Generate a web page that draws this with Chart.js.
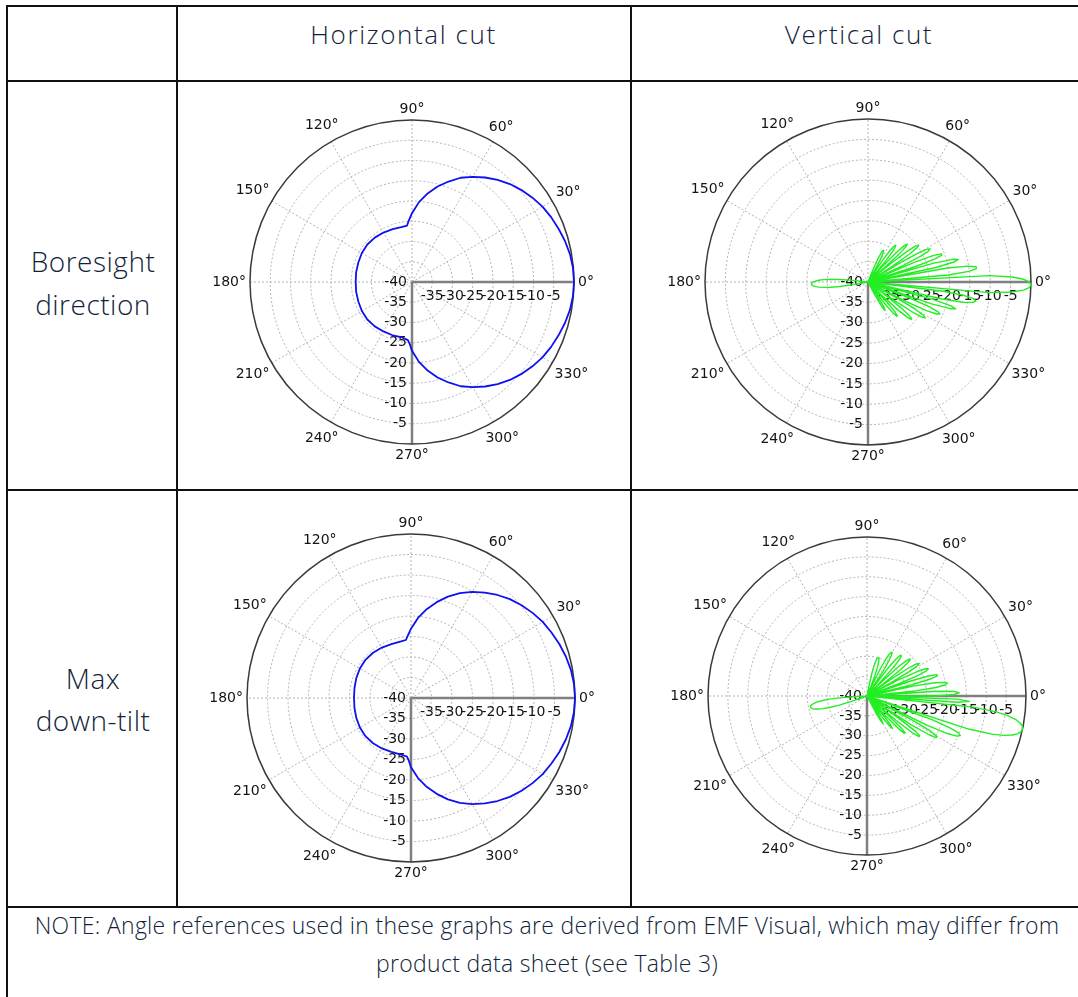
<!DOCTYPE html>
<html>
<head>
<meta charset="utf-8">
<script src="https://cdn.jsdelivr.net/npm/chart.js@4.4.1/dist/chart.umd.min.js"></script>
<style>
  html, body { margin: 0; padding: 0; background: #fff; overflow: hidden; }
  body { width: 1078px; height: 997px; position: relative; font-family: "Open Sans", sans-serif; font-weight: 300; color: #131f3b; }
  .ln { position: absolute; background: #111; }
  .txt { position: absolute; text-align: center; white-space: nowrap; }
  canvas { position: absolute; }
</style>
</head>
<body>
<!-- table rules -->
<div class="ln" style="left:6px; top:5px; width:1072px; height:2px"></div>
<div class="ln" style="left:6px; top:5px; width:2px; height:992px"></div>
<div class="ln" style="left:6px; top:80px; width:1072px; height:2px"></div>
<div class="ln" style="left:6px; top:489px; width:1072px; height:2px"></div>
<div class="ln" style="left:6px; top:906px; width:1072px; height:2px"></div>
<div class="ln" style="left:176px; top:5px; width:1.5px; height:902px"></div>
<div class="ln" style="left:630px; top:5px; width:1.5px; height:902px"></div>

<div class="txt" style="left:176px; width:455px; top:14px; font-size:26px; line-height:40px; letter-spacing:1.6px">Horizontal cut</div>
<div class="txt" style="left:631px; width:456px; top:14px; font-size:26px; line-height:40px; letter-spacing:1.6px">Vertical cut</div>
<div class="txt" style="left:8px; width:170px; top:240px; font-size:28px; line-height:43px; letter-spacing:0.5px">Boresight<br>direction</div>
<div class="txt" style="left:8px; width:170px; top:657px; font-size:28px; line-height:42px; letter-spacing:0.5px">Max<br>down-tilt</div>
<div class="txt" style="left:6px; width:1082px; top:906px; font-size:23px; line-height:38px; letter-spacing:0.3px">NOTE: Angle references used in these graphs are derived from EMF Visual, which may differ from<br>product data sheet (see Table 3)</div>

<canvas id="hBore" width="420" height="390"></canvas>
<canvas id="vBore" width="420" height="390"></canvas>
<canvas id="hTilt" width="420" height="390"></canvas>
<canvas id="vTilt" width="420" height="390"></canvas>

<script>
// one category per degree, running counter-clockwise from 0°
const degrees = Array.from({ length: 360 }, (_, i) => (360 - i) % 360);
const dialAngles = [0, 30, 60, 90, 120, 150, 180, 210, 240, 270, 300, 330];

// horizontal cut (dB)
const hAngles = [0, 5, 10, 15, 20, 25, 30, 35, 40, 45, 50, 55, 60, 65, 70, 75, 80, 85, 90, 93, 95,
  100, 110, 120, 130, 140, 150, 160, 170, 180, 190, 200, 210, 220, 230, 240, 250, 260, 266, 268,
  270, 275, 280, 285, 290, 295, 300, 305, 310, 315, 320, 325, 330, 335, 340, 345, 350, 355];
const hBoreGain = [0, -0.1, -0.4, -0.9, -1.5, -2.1, -2.8, -3.7, -4.7, -5.8, -7.1, -8.5, -10.0, -11.6, -13.6, -15.6, -17.8, -20.2, -23.0, -24.8, -26.0,
  -26.2, -26.1, -25.9, -25.7, -25.6, -25.7, -25.9, -26.0, -26.1, -26.0, -25.9, -25.7, -25.6, -25.7, -25.9, -26.0, -26.1, -25.6, -24.6,
  -23.0, -20.2, -17.8, -15.6, -13.6, -11.6, -10.0, -8.5, -7.1, -5.8, -4.7, -3.7, -2.8, -2.1, -1.5, -0.9, -0.4, -0.1];
const hTiltGain = [0, -0.1, -0.4, -0.9, -1.5, -2.2, -2.9, -3.8, -4.8, -5.9, -7.2, -8.6, -10.1, -11.8, -13.7, -15.8, -18.0, -20.4, -23.1, -24.8, -25.8,
  -26.0, -26.0, -25.8, -25.6, -25.5, -25.6, -25.8, -26.0, -26.1, -26.0, -25.8, -25.6, -25.5, -25.6, -25.8, -26.0, -26.0, -25.7, -24.7,
  -23.1, -20.4, -18.0, -15.8, -13.7, -11.8, -10.1, -8.6, -7.2, -5.9, -4.8, -3.8, -2.9, -2.2, -1.5, -0.9, -0.4, -0.1];

// vertical cut (dB), one value per degree from the start angle
const vBoreFrom = -64;
const vBoreGain = [
  -40, -40, -36.5, -33.7, -32.3, -31.9, -32.3, -33.7, -36.5, -40,
  -40, -38.2, -32.7, -30.2, -29.0, -29.0, -30.2, -32.7, -38.2, -40,
  -35.2, -29.7, -27.2, -26.0, -26.0, -27.2, -29.7, -35.2, -40, -31.7,
  -26.4, -24.1, -23.4, -24.1, -26.4, -31.7, -40, -29.0, -23.7, -21.4,
  -20.7, -21.4, -23.7, -29.0, -40, -23.5, -18.8, -17.5, -18.8, -23.5,
  -40, -21.4, -16.1, -13.8, -13.1, -13.8, -16.1, -21.4, -40, -10.2,
  -4.6, -1.8, -0.4, 0, -0.4, -1.8, -4.6, -10.2, -40, -20.2,
  -15.1, -13.2, -13.2, -15.1, -20.2, -40, -23.2, -18.5, -17.2, -18.5,
  -23.2, -40, -27.7, -22.6, -20.7, -20.7, -22.6, -27.7, -40, -31.0,
  -25.7, -23.4, -22.7, -23.4, -25.7, -31.0, -40, -32.9, -27.6, -25.3,
  -24.6, -25.3, -27.6, -32.9, -40, -34.9, -29.6, -27.3, -26.6, -27.3,
  -29.6, -34.9, -40, -38.9, -33.3, -30.5, -29.1, -28.7, -29.1, -30.5,
  -33.3, -38.9, -40, -40, -37.3, -34.3, -32.6, -31.6, -31.3, -31.6,
  -32.6, -34.3, -37.3, -40, -40];
const vBoreBackFrom = 172;
const vBoreBack = [-40, -40, -36.3, -33.0, -30.7, -29.1, -27.9, -27.1, -26.5, -26.2, -26.1,
  -26.2, -26.5, -27.1, -27.9, -29.1, -30.7, -33.0, -36.3, -40, -40];

const vTiltFrom = -64;
const vTiltGain = [
  -40, -40, -35.0, -32.7, -32.0, -32.7, -35.0, -40, -40, -37.9,
  -32.6, -30.3, -29.6, -30.3, -32.6, -37.9, -40, -33.7, -28.6, -26.7,
  -26.7, -28.6, -33.7, -40, -30.4, -25.3, -23.4, -23.4, -25.3, -30.4,
  -40, -26.7, -21.6, -19.7, -19.7, -21.6, -26.7, -40, -22.8, -17.5,
  -15.2, -14.5, -15.2, -17.5, -22.8, -40, -13.1, -7.2, -4.1, -2.1,
  -0.9, -0.2, 0, -0.2, -0.9, -2.1, -4.1, -7.2, -13.1, -40,
  -17.2, -14.2, -17.2, -40, -22.8, -18.1, -16.8, -18.1, -22.8, -40,
  -27.8, -22.5, -20.2, -19.5, -20.2, -22.5, -27.8, -40, -28.6, -23.5,
  -21.6, -21.6, -23.5, -28.6, -40, -31.4, -26.1, -23.8, -23.1, -23.8,
  -26.1, -31.4, -40, -32.8, -27.5, -25.2, -24.5, -25.2, -27.5, -32.8,
  -40, -35.0, -29.5, -27.0, -25.8, -25.8, -27.0, -29.5, -35.0, -40,
  -36.8, -31.2, -28.4, -27.0, -26.6, -27.0, -28.4, -31.2, -36.8, -40,
  -38.3, -32.6, -29.7, -28.1, -27.4, -27.4, -28.1, -29.7, -32.6, -38.3,
  -40, -40, -37.6, -34.4, -32.4, -31.1, -30.2, -29.9, -29.9, -30.2,
  -31.1, -32.4, -34.4, -37.6, -40, -40];
const vTiltBackFrom = 181;
const vTiltBack = [-40, -40, -35.7, -32.4, -30.1, -28.5, -27.3, -26.5, -25.9, -25.6, -25.5,
  -25.6, -25.9, -26.5, -27.3, -28.5, -30.1, -32.4, -35.7, -40, -40];

// put readings onto the 360 categories, gaps left as null
const toDial = (angles, gains) => {
  const out = degrees.map(() => null);
  angles.forEach((a, k) => {
    const deg = ((a % 360) + 360) % 360;
    out[(360 - deg) % 360] = gains[k];
  });
  return out;
};
const runAngles = (from, gains) => gains.map((_, k) => from + k);

const dialDecor = {
  id: 'dialDecor',
  beforeDatasetsDraw(chart) {
    const s = chart.scales.r;
    const c = chart.ctx;
    const cx = s.xCenter, cy = s.yCenter, r = s.drawingArea;
    const east = s.getPointPositionForValue(0, 0);
    const south = s.getPointPositionForValue(90, 0);
    c.save();
    c.strokeStyle = '#808080';
    c.lineWidth = 2.5;
    c.beginPath();
    c.moveTo(cx, cy); c.lineTo(east.x, east.y);
    c.moveTo(cx, cy); c.lineTo(south.x, south.y);
    c.stroke();

    c.strokeStyle = '#3a3a3a';
    c.lineWidth = 1.5;
    c.beginPath();
    c.arc(cx, cy, r, 0, Math.PI * 2);
    c.stroke();

    c.font = '14px "DejaVu Sans"';
    c.fillStyle = '#141414';
    c.textBaseline = 'middle';
    // dB ticks along 0° and down 270°
    s.ticks.forEach(t => {
      if (t.value >= 0) return;
      const d = s.getDistanceFromCenterForValue(t.value);
      if (t.value > s.min) {
        c.textAlign = 'center';
        c.fillText(t.label, cx + d, cy + 14);
      }
      c.textAlign = 'right';
      c.fillText(t.label, cx - 5, cy + d);
    });
    // angle labels round the dial
    c.textAlign = 'center';
    dialAngles.forEach(a => {
      const text = a + '°';
      const w = c.measureText(text).width;
      const rad = a * Math.PI / 180;
      const extra = 4 + Math.abs(Math.cos(rad)) * w / 2 + Math.abs(Math.sin(rad)) * 7;
      const p = s.getPointPosition((360 - a) % 360, r + extra);
      c.fillText(text, p.x, p.y);
    });
    c.restore();
  }
};

const polarChart = (id, cx, cy, r, series, color, width) => {
  const el = document.getElementById(id);
  el.style.left = (cx - 210) + 'px';
  el.style.top = (cy - 195) + 'px';
  return new Chart(el.getContext('2d'), {
    type: 'radar',
    data: {
      labels: degrees,
      datasets: [{
        data: series,
        borderColor: color,
        backgroundColor: 'transparent',
        borderWidth: width,
        borderJoinStyle: 'round',
        pointRadius: 0,
        pointHitRadius: 0,
        fill: false,
        spanGaps: true,
        tension: 0,
        clip: false
      }]
    },
    options: {
      responsive: false,
      animation: false,
      events: [],
      layout: { padding: { left: 210 - r, right: 210 - r, top: 195 - r, bottom: 195 - r } },
      plugins: { legend: { display: false }, tooltip: { enabled: false } },
      scales: {
        r: {
          min: -40,
          max: 0,
          startAngle: 90,
          ticks: { display: false, stepSize: 5 },
          pointLabels: { display: false },
          grid: {
            circular: true,
            color: '#b3b3b3',
            lineWidth: ctx => (ctx.tick && ctx.tick.value === 0) ? 0 : 1
          },
          border: { dash: [2, 2] },
          angleLines: {
            color: '#b3b3b3',
            lineWidth: ctx => ctx.index % 30 === 0 ? 1 : 0,
            borderDash: [2, 2]
          }
        }
      }
    },
    plugins: [dialDecor]
  });
};

polarChart('hBore', 412, 282, 162, toDial(hAngles, hBoreGain), '#1010f0', 1.8);
polarChart('hTilt', 411, 698, 164, toDial(hAngles, hTiltGain), '#1010f0', 1.8);
polarChart('vBore', 868, 282, 163,
  toDial(runAngles(vBoreFrom, vBoreGain).concat(runAngles(vBoreBackFrom, vBoreBack)), vBoreGain.concat(vBoreBack)),
  '#22ee22', 1.4);
polarChart('vTilt', 867, 696, 159,
  toDial(runAngles(vTiltFrom, vTiltGain).concat(runAngles(vTiltBackFrom, vTiltBack)), vTiltGain.concat(vTiltBack)),
  '#22ee22', 1.4);
</script>
</body>
</html>
